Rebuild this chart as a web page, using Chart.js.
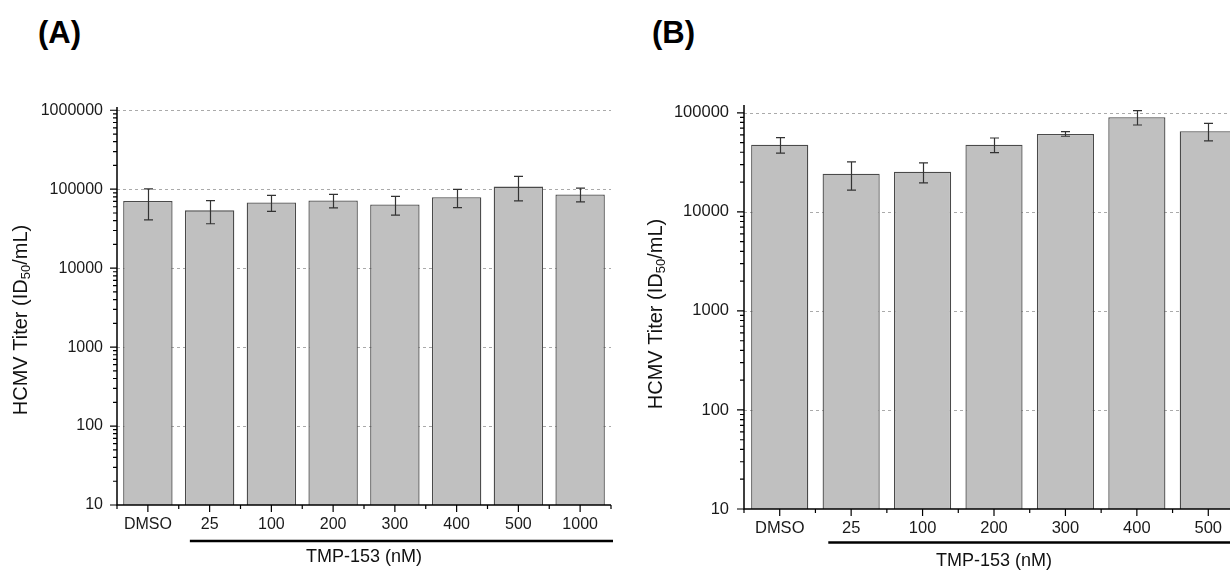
<!DOCTYPE html>
<html>
<head>
<meta charset="utf-8">
<script src="https://cdn.jsdelivr.net/npm/chart.js@4.4.1/dist/chart.umd.min.js"></script>
<style>
  body { margin: 0; width: 1230px; height: 571px; overflow: hidden; background: #fff; position: relative; font-family: 'Liberation Sans', Arial, sans-serif; }
  .panel-tag { position: absolute; font-weight: bold; font-size: 31px; line-height: 31px; color: #000; }
  canvas { position: absolute; top: 0; }
</style>
</head>
<body>
<div class="panel-tag" style="left:38px;top:17px">(A)</div>
<div class="panel-tag" style="left:652px;top:17px">(B)</div>
<canvas id="chartA" width="630" height="571" style="left:0"></canvas>
<canvas id="chartB" width="630" height="571" style="left:630px"></canvas>
<script>
// Panel A data
const categoriesA = ['DMSO', '25', '100', '200', '300', '400', '500', '1000'];
const titerA = [71000, 54000, 68000, 72000, 64000, 79000, 108000, 86000];
const errA = [30000, 17500, 15500, 14000, 17000, 20500, 37000, 17000];
const tickValuesA = [10, 100, 1000, 10000, 100000, 1000000];

// Panel B data
const categoriesB = ['DMSO', '25', '100', '200', '300', '400', '500'];
const titerB = [47700, 24300, 25400, 47700, 61300, 90400, 65200];
const errB = [8500, 7700, 5800, 8000, 3300, 15000, 13000];
const tickValuesB = [10, 100, 1000, 10000, 100000];

const FONT = "'Liberation Sans', Arial, sans-serif";

// Origin-like look: dashed decade grid, outward ticks, error bars, titles
const originStyle = {
  id: 'originStyle',
  beforeDatasetsDraw(chart, args, opts) {
    const { ctx, chartArea: a, scales: { y } } = chart;
    ctx.save();
    ctx.strokeStyle = '#aaaaaa';
    ctx.lineWidth = 1;
    ctx.setLineDash([3, 3]);
    opts.ticks.forEach((v) => {
      if (v === y.min) return;
      const py = Math.round(y.getPixelForValue(v)) + 0.5;
      ctx.beginPath();
      ctx.moveTo(a.left, py);
      ctx.lineTo(a.right, py);
      ctx.stroke();
    });
    ctx.restore();
  },
  afterDatasetsDraw(chart, args, opts) {
    const { ctx, chartArea: a, scales: { x, y } } = chart;
    const meta = chart.getDatasetMeta(0);
    const vals = chart.data.datasets[0].data;
    ctx.save();

    // error bars
    ctx.strokeStyle = '#333';
    ctx.lineWidth = 1.2;
    meta.data.forEach((bar, i) => {
      const hi = y.getPixelForValue(vals[i] + opts.err[i]);
      const lo = y.getPixelForValue(vals[i] - opts.err[i]);
      const cx = Math.round(bar.x) + 0.5;
      ctx.beginPath();
      ctx.moveTo(cx, hi); ctx.lineTo(cx, lo);
      ctx.moveTo(cx - 4.5, hi); ctx.lineTo(cx + 4.5, hi);
      ctx.moveTo(cx - 4.5, lo); ctx.lineTo(cx + 4.5, lo);
      ctx.stroke();
    });

    // axis lines
    ctx.strokeStyle = '#000';
    ctx.lineWidth = 1.5;
    ctx.beginPath();
    ctx.moveTo(a.left, a.top);
    ctx.lineTo(a.left, a.bottom);
    ctx.lineTo(a.right, a.bottom);
    ctx.stroke();

    // y ticks (major + minor)
    ctx.lineWidth = 1.2;
    ctx.beginPath();
    opts.ticks.forEach((v) => {
      const py = y.getPixelForValue(v);
      ctx.moveTo(a.left - 7, py); ctx.lineTo(a.left, py);
      for (let k = 2; k < 10; k++) {
        if (v * k > y.max) break;
        const my = y.getPixelForValue(v * k);
        ctx.moveTo(a.left - 4, my); ctx.lineTo(a.left, my);
      }
    });
    // x ticks
    const n = chart.data.labels.length;
    for (let i = 0; i < n; i++) {
      const px = x.getPixelForValue(i);
      ctx.moveTo(px, a.bottom); ctx.lineTo(px, a.bottom + 7);
    }
    for (let i = 0; i <= n; i++) {
      const px = x.getPixelForValue(i - 0.5);
      ctx.moveTo(px, a.bottom); ctx.lineTo(px, a.bottom + 4);
    }
    ctx.stroke();

    // bracket line under the TMP-153 doses
    const cat = x.getPixelForValue(1) - x.getPixelForValue(0);
    ctx.lineWidth = 2.5;
    ctx.beginPath();
    ctx.moveTo(x.getPixelForValue(0.5) + cat * 0.18, a.bottom + opts.lineDy);
    ctx.lineTo(a.right + 2, a.bottom + opts.lineDy);
    ctx.stroke();

    // x title
    ctx.fillStyle = '#111';
    ctx.font = '18px ' + FONT;
    ctx.textAlign = 'center';
    ctx.textBaseline = 'middle';
    ctx.fillText('TMP-153 (nM)', (a.left + a.right) / 2, opts.xTitleY);

    // y title with subscript
    ctx.translate(opts.yTitleX, opts.yTitleY);
    ctx.rotate(-Math.PI / 2);
    const big = '20px ' + FONT;
    const small = '13px ' + FONT;
    const parts = [['HCMV Titer (ID', big, 0], ['50', small, 5], ['/mL)', big, 0]];
    let total = 0;
    parts.forEach((p) => { ctx.font = p[1]; total += ctx.measureText(p[0]).width; });
    let px = -total / 2;
    ctx.textAlign = 'left';
    ctx.textBaseline = 'middle';
    parts.forEach((p) => {
      ctx.font = p[1];
      ctx.fillText(p[0], px, p[2]);
      px += ctx.measureText(p[0]).width;
    });
    ctx.restore();
  },
};

function makeChart(id, labels, values, errs, ticks, yMax, geo) {
  return new Chart(document.getElementById(id), {
    type: 'bar',
    data: {
      labels: labels,
      datasets: [{
        data: values,
        backgroundColor: '#c0c0c0',
        borderColor: '#4a4a4a',
        borderWidth: 1.3,
        categoryPercentage: 1,
        barPercentage: 0.8,
      }],
    },
    options: {
      responsive: false,
      animation: false,
      layout: { padding: { left: 0, top: geo.top, right: geo.right, bottom: 0 } },
      plugins: {
        legend: { display: false },
        tooltip: { enabled: false },
        originStyle: {
          err: errs,
          ticks: ticks,
          lineDy: geo.lineDy,
          xTitleY: geo.xTitleY,
          yTitleX: geo.yTitleX,
          yTitleY: geo.yTitleY,
        },
      },
      scales: {
        x: {
          grid: { display: false, drawTicks: false },
          border: { display: false },
          ticks: { font: { family: FONT, size: geo.font }, color: '#1a1a1a', padding: 10, maxRotation: 0, autoSkip: false },
          afterFit: (s) => { s.height = geo.xHeight; },
        },
        y: {
          type: 'logarithmic',
          min: 10,
          max: yMax,
          grid: { display: false, drawTicks: false },
          border: { display: false },
          ticks: { font: { family: FONT, size: geo.font }, color: '#1a1a1a', padding: geo.yPad, callback: (v) => String(v) },
          afterBuildTicks: (s) => { s.ticks = ticks.map((v) => ({ value: v })); },
          afterFit: (s) => { s.width = geo.yWidth; },
        },
      },
    },
    plugins: [originStyle],
  });
}

makeChart('chartA', categoriesA, titerA, errA, tickValuesA, 1100000, {
  top: 107, right: 19, yWidth: 117, xHeight: 66, yPad: 14, font: 16,
  lineDy: 36, xTitleY: 557, yTitleX: 21, yTitleY: 320,
});

makeChart('chartB', categoriesB, titerB, errB, tickValuesB, 120000, {
  top: 105, right: 16, yWidth: 114, xHeight: 62, yPad: 15, font: 16.5,
  lineDy: 33.5, xTitleY: 561, yTitleX: 26, yTitleY: 314,
});
</script>
</body>
</html>
